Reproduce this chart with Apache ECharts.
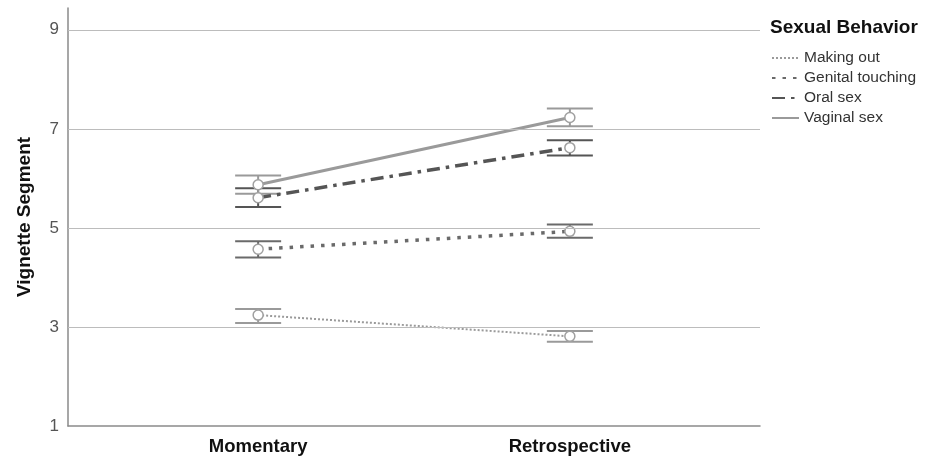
<!DOCTYPE html>
<html>
<head>
<meta charset="utf-8">
<script src="https://cdn.jsdelivr.net/npm/echarts@6/dist/echarts.min.js"></script>
<style>html,body{margin:0;padding:0;background:#fff;}#c{width:931px;height:456px;}</style>
</head>
<body>
<div id="c"></div>
<script>
var categories = ['Momentary', 'Retrospective'];
var yTicks = [1, 3, 5, 7, 9];
var gridTicks = [3, 5, 7, 9];
var seriesNames = ['Making out', 'Genital touching', 'Oral sex', 'Vaginal sex'];
var makingOut = [3.24, 2.81];
var makingOutLow = [3.08, 2.70];
var makingOutHigh = [3.36, 2.92];
var genital = [4.57, 4.93];
var genitalLow = [4.40, 4.80];
var genitalHigh = [4.73, 5.07];
var oral = [5.61, 6.62];
var oralLow = [5.42, 6.46];
var oralHigh = [5.80, 6.77];
var vaginal = [5.87, 7.23];
var vaginalLow = [5.69, 7.05];
var vaginalHigh = [6.06, 7.41];

var styles = [
  {color: '#9a9a9a', width: 2, type: [2, 2]},
  {color: '#6a6a6a', width: 3.5, type: [3.5, 7]},
  {color: '#555555', width: 3.5, type: [13, 6, 3.5, 6]},
  {color: '#9a9a9a', width: 3, type: 'solid'}
];
var means = [makingOut, genital, oral, vaginal];
var lows = [makingOutLow, genitalLow, oralLow, vaginalLow];
var highs = [makingOutHigh, genitalHigh, oralHigh, vaginalHigh];

var series = [];
seriesNames.forEach(function (name, i) {
  var s = styles[i];
  var obj = {
    name: name,
    type: 'line',
    z: 4,
    symbol: 'circle',
    symbolSize: 10,
    data: categories.map(function (c, k) { return [k, means[i][k]]; }),
    lineStyle: {color: s.color, width: s.width, type: s.type},
    itemStyle: {color: '#fff', borderColor: '#a0a0a0', borderWidth: 1.5},
    silent: true
  };
  if (i === 0) {
    obj.markLine = {
      silent: true, symbol: 'none', animation: false,
      label: {show: false},
      lineStyle: {color: '#bcbcbc', width: 1, type: 'solid'},
      data: gridTicks.map(function (v) { return {yAxis: v}; })
    };
  }
  series.push(obj);
});
seriesNames.forEach(function (name, i) {
  var s = styles[i];
  series.push({
    name: name + ' CI',
    type: 'custom',
    z: 3,
    renderItem: function (params, api) {
      var x = api.value(0), lo = api.value(1), hi = api.value(2);
      var pLo = api.coord([x, lo]), pHi = api.coord([x, hi]);
      var hw = 23;
      var st = {stroke: s.color, lineWidth: 2};
      return {type: 'group', children: [
        {type: 'line', shape: {x1: pLo[0], y1: pLo[1], x2: pHi[0], y2: pHi[1]}, style: st},
        {type: 'line', shape: {x1: pLo[0] - hw, y1: pLo[1], x2: pLo[0] + hw, y2: pLo[1]}, style: st},
        {type: 'line', shape: {x1: pHi[0] - hw, y1: pHi[1], x2: pHi[0] + hw, y2: pHi[1]}, style: st}
      ]};
    },
    data: categories.map(function (c, k) { return [k, lows[i][k], highs[i][k]]; }),
    silent: true
  });
});

var chart = echarts.init(document.getElementById('c'), null, {renderer: 'canvas'});
chart.setOption({
  animation: false,
  backgroundColor: '#fff',
  title: {
    text: 'Sexual Behavior', left: 770, top: 18, padding: 0,
    textStyle: {fontFamily: 'Liberation Sans', fontSize: 19, fontWeight: 'bold', color: '#111'}
  },
  legend: {
    orient: 'vertical', left: 766, top: 45,
    data: seriesNames,
    itemWidth: 27, itemHeight: 14, itemGap: 4,
    itemStyle: {color: 'rgba(0,0,0,0)', borderColor: 'rgba(0,0,0,0)', borderWidth: 0},
    textStyle: {fontFamily: 'Liberation Sans', fontSize: 15.5, color: '#333'},
    selectedMode: false
  },
  grid: {left: 68, right: 171, top: 8, bottom: 30, containLabel: false},
  xAxis: {
    type: 'value', min: -0.61, max: 1.61,
    axisLine: {show: true, onZero: false, lineStyle: {color: '#8a8a8a', width: 1.5}},
    axisTick: {show: false},
    splitLine: {show: false},
    axisLabel: {
      customValues: [0, 1],
      formatter: function (v) { return categories[Math.round(v)]; },
      fontFamily: 'Liberation Sans', fontSize: 18.5, fontWeight: 'bold', color: '#111', margin: 11
    }
  },
  yAxis: {
    type: 'value', min: 1, max: 9.44, interval: 2,
    name: 'Vignette Segment', nameLocation: 'middle', nameGap: 34,
    nameTextStyle: {fontFamily: 'Liberation Sans', fontSize: 19, fontWeight: 'bold', color: '#111'},
    axisLine: {show: true, onZero: false, lineStyle: {color: '#8a8a8a', width: 1.5}},
    axisTick: {show: false},
    splitLine: {show: false},
    axisLabel: {
      customValues: yTicks,
      fontFamily: 'Liberation Sans', fontSize: 17, color: '#555', margin: 9
    }
  },
  series: series
});
</script>
</body>
</html>
